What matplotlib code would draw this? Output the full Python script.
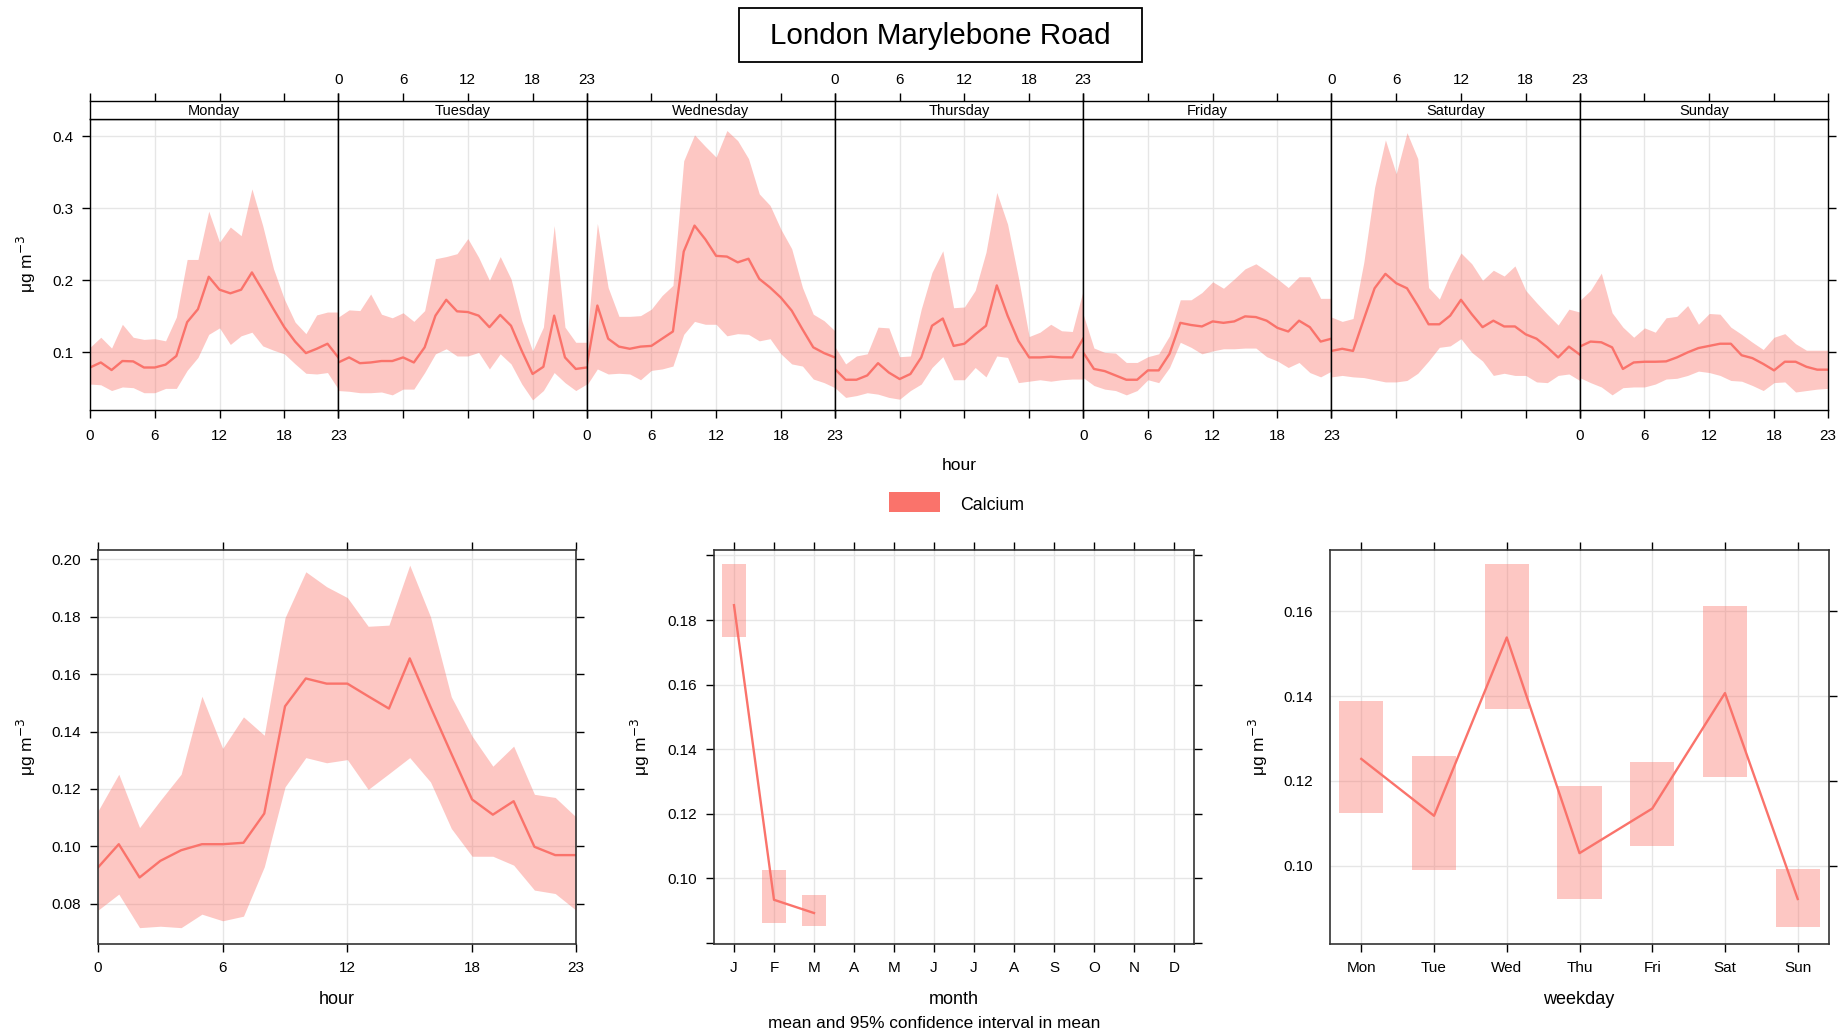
import numpy as np
import matplotlib.pyplot as plt
from matplotlib.patches import Rectangle

plt.rcParams["font.family"] = ["Liberation Sans", "DejaVu Sans"]

# ---- dane ----
hours = list(range(24))
day_names = ["Monday", "Tuesday", "Wednesday", "Thursday", "Friday", "Saturday", "Sunday"]

day_mean = [
    [0.079, 0.086, 0.0755, 0.088, 0.0875, 0.079, 0.079, 0.083, 0.095, 0.142, 0.160, 0.205,
     0.187, 0.182, 0.187, 0.211, 0.186, 0.160, 0.135, 0.115, 0.099, 0.105, 0.112, 0.093],
    [0.086, 0.093, 0.085, 0.086, 0.088, 0.088, 0.093, 0.086, 0.107, 0.151, 0.173, 0.157,
     0.156, 0.151, 0.135, 0.152, 0.137, 0.102, 0.070, 0.080, 0.151, 0.093, 0.077, 0.079],
    [0.080, 0.165, 0.119, 0.108, 0.105, 0.108, 0.109, 0.119, 0.129, 0.240, 0.276, 0.257,
     0.234, 0.233, 0.225, 0.230, 0.202, 0.190, 0.176, 0.158, 0.132, 0.107, 0.099, 0.093],
    [0.077, 0.062, 0.062, 0.068, 0.085, 0.072, 0.063, 0.070, 0.093, 0.137, 0.147, 0.109,
     0.112, 0.125, 0.137, 0.193, 0.151, 0.116, 0.093, 0.093, 0.094, 0.093, 0.093, 0.119],
    [0.100, 0.077, 0.074, 0.068, 0.062, 0.062, 0.075, 0.075, 0.098, 0.141, 0.138, 0.136,
     0.143, 0.141, 0.143, 0.150, 0.149, 0.144, 0.134, 0.129, 0.144, 0.135, 0.115, 0.119],
    [0.102, 0.105, 0.102, 0.146, 0.189, 0.209, 0.196, 0.189, 0.165, 0.139, 0.139, 0.151,
     0.173, 0.153, 0.135, 0.144, 0.136, 0.136, 0.125, 0.119, 0.107, 0.093, 0.108, 0.097],
    [0.108, 0.115, 0.114, 0.107, 0.077, 0.086, 0.087, 0.087, 0.0875, 0.093, 0.100, 0.106,
     0.109, 0.112, 0.112, 0.096, 0.092, 0.084, 0.075, 0.087, 0.087, 0.080, 0.076, 0.076],
]
day_lower = [
    [0.056, 0.055, 0.047, 0.052, 0.051, 0.044, 0.044, 0.050, 0.050, 0.075, 0.093, 0.125,
     0.134, 0.111, 0.123, 0.128, 0.109, 0.103, 0.098, 0.084, 0.071, 0.070, 0.072, 0.049],
    [0.047, 0.046, 0.044, 0.044, 0.045, 0.041, 0.049, 0.049, 0.072, 0.098, 0.105, 0.095,
     0.095, 0.100, 0.077, 0.098, 0.084, 0.056, 0.034, 0.047, 0.072, 0.058, 0.047, 0.056],
    [0.054, 0.077, 0.070, 0.071, 0.070, 0.062, 0.075, 0.077, 0.081, 0.125, 0.143, 0.139,
     0.139, 0.123, 0.126, 0.125, 0.116, 0.119, 0.098, 0.084, 0.081, 0.063, 0.058, 0.051],
    [0.051, 0.0375, 0.040, 0.044, 0.042, 0.0375, 0.035, 0.047, 0.056, 0.079, 0.094, 0.062,
     0.062, 0.079, 0.066, 0.095, 0.093, 0.058, 0.060, 0.062, 0.060, 0.062, 0.063, 0.063],
    [0.065, 0.054, 0.049, 0.047, 0.041, 0.047, 0.062, 0.058, 0.079, 0.114, 0.107, 0.098,
     0.102, 0.105, 0.105, 0.106, 0.106, 0.094, 0.088, 0.079, 0.086, 0.072, 0.066, 0.074],
    [0.066, 0.068, 0.066, 0.065, 0.062, 0.059, 0.059, 0.061, 0.071, 0.088, 0.107, 0.109,
     0.119, 0.100, 0.088, 0.068, 0.071, 0.068, 0.068, 0.059, 0.058, 0.068, 0.070, 0.061],
    [0.065, 0.058, 0.052, 0.041, 0.051, 0.052, 0.052, 0.056, 0.063, 0.064, 0.068, 0.074,
     0.072, 0.068, 0.061, 0.060, 0.054, 0.047, 0.058, 0.059, 0.045, 0.047, 0.049, 0.050],
]
day_upper = [
    [0.107, 0.121, 0.106, 0.139, 0.121, 0.118, 0.119, 0.116, 0.149, 0.229, 0.229, 0.296,
     0.253, 0.274, 0.262, 0.327, 0.276, 0.216, 0.174, 0.142, 0.126, 0.152, 0.156, 0.156],
    [0.149, 0.159, 0.158, 0.181, 0.153, 0.148, 0.155, 0.143, 0.158, 0.230, 0.233, 0.237,
     0.258, 0.232, 0.200, 0.233, 0.202, 0.144, 0.102, 0.135, 0.276, 0.135, 0.114, 0.114],
    [0.114, 0.279, 0.190, 0.150, 0.150, 0.151, 0.160, 0.179, 0.193, 0.366, 0.402, 0.386,
     0.371, 0.408, 0.394, 0.369, 0.320, 0.304, 0.271, 0.244, 0.190, 0.153, 0.144, 0.130],
    [0.108, 0.084, 0.095, 0.098, 0.135, 0.134, 0.094, 0.095, 0.160, 0.211, 0.241, 0.162,
     0.163, 0.186, 0.239, 0.322, 0.278, 0.204, 0.122, 0.128, 0.139, 0.130, 0.129, 0.186],
    [0.153, 0.106, 0.100, 0.099, 0.086, 0.086, 0.094, 0.098, 0.123, 0.173, 0.173, 0.183,
     0.198, 0.189, 0.202, 0.216, 0.223, 0.213, 0.202, 0.190, 0.205, 0.205, 0.175, 0.175],
    [0.149, 0.143, 0.147, 0.225, 0.329, 0.395, 0.348, 0.405, 0.369, 0.190, 0.174, 0.209,
     0.238, 0.223, 0.200, 0.214, 0.206, 0.220, 0.186, 0.169, 0.153, 0.138, 0.160, 0.156],
    [0.172, 0.186, 0.210, 0.155, 0.135, 0.121, 0.134, 0.128, 0.148, 0.150, 0.165, 0.139,
     0.154, 0.153, 0.135, 0.125, 0.114, 0.104, 0.121, 0.126, 0.112, 0.103, 0.103, 0.103],
]

hour_mean = [0.0926, 0.1007, 0.0891, 0.0949, 0.0986, 0.1007, 0.1007, 0.1012, 0.1114, 0.1488,
             0.1585, 0.1567, 0.1567, 0.1523, 0.1480, 0.1655, 0.1486, 0.1323, 0.1163, 0.1110,
             0.1157, 0.0998, 0.0969, 0.0969]
hour_lower = [0.0777, 0.0833, 0.0716, 0.0721, 0.0716, 0.0763, 0.0740, 0.0756, 0.0928, 0.1207,
              0.1309, 0.1291, 0.1302, 0.1198, 0.1253, 0.1309, 0.1224, 0.1062, 0.0965, 0.0965,
              0.0934, 0.0847, 0.0835, 0.0777]
hour_upper = [0.1123, 0.1251, 0.1065, 0.1160, 0.1251, 0.1523, 0.1341, 0.1451, 0.1387, 0.1797,
              0.1957, 0.1905, 0.1867, 0.1767, 0.1771, 0.1980, 0.1800, 0.1521, 0.1384, 0.1279,
              0.1349, 0.1181, 0.1170, 0.1102]

month_labels = ["J", "F", "M", "A", "M", "J", "J", "A", "S", "O", "N", "D"]
month_mean = [0.1846, 0.0933, 0.0892]
month_lower = [0.1746, 0.0861, 0.0852]
month_upper = [0.1973, 0.1026, 0.0949]

weekday_labels = ["Mon", "Tue", "Wed", "Thu", "Fri", "Sat", "Sun"]
weekday_mean = [0.1252, 0.1118, 0.1538, 0.1030, 0.1135, 0.1407, 0.0922]
weekday_lower = [0.1125, 0.0991, 0.1370, 0.0922, 0.1047, 0.1209, 0.0855]
weekday_upper = [0.1389, 0.1258, 0.1711, 0.1187, 0.1244, 0.1612, 0.0992]

# ---- styl ----
W, H = 1843, 1035
KOLOR = "#FA736B"
SIATKA = "#E6E6E6"
UNIT = "μg m$^{-3}$"


def box(l, t, r, b):
    return [l / W, 1 - b / H, (r - l) / W, (b - t) / H]


fig = plt.figure(figsize=(W / 100, H / 100), dpi=100)

# tytuł w ramce
fig.patches.append(Rectangle((739 / W, 1 - 62 / H), (1142 - 739) / W, 54 / H,
                             transform=fig.transFigure, fill=False, ec="black", lw=1.3))
fig.text(940.5 / W, 1 - 36 / H, "London Marylebone Road", ha="center", va="center", fontsize=21.3)

# ---- górny panel: dni tygodnia ----
L, R = 90, 1828
dw = (R - L) / 7
for i, name in enumerate(day_names):
    l = L + i * dw
    ax = fig.add_axes(box(l, 119, l + dw, 410))
    ax.set_axisbelow(True)
    ax.fill_between(hours, day_lower[i], day_upper[i], color=KOLOR, alpha=0.4, lw=0)
    ax.plot(hours, day_mean[i], color=KOLOR, lw=1.7)
    ax.set_xlim(0, 23)
    ax.set_ylim(0.02, 0.424)
    ax.set_xticks([0, 6, 12, 18, 23])
    ax.set_yticks([0.1, 0.2, 0.3, 0.4])
    ax.set_yticklabels(["0.1", "0.2", "0.3", "0.4"])
    ax.grid(color=SIATKA, lw=1)
    ax.tick_params(direction="out", length=6, width=1, labelsize=11, pad=8,
                   bottom=True, top=False, left=(i == 0), right=(i == 6),
                   labelbottom=(i % 2 == 0), labelleft=(i == 0), labelright=False)
    ax.tick_params(axis="y", pad=6)
    for s in ax.spines.values():
        s.set_color("black")
        s.set_linewidth(1)

    st = fig.add_axes(box(l, 101, l + dw, 119))
    st.set_xlim(0, 23)
    st.set_xticks([0, 6, 12, 18, 23])
    st.set_yticks([])
    st.tick_params(direction="out", length=6, width=1, labelsize=11, pad=4,
                   top=True, bottom=False, labeltop=(i % 2 == 1), labelbottom=False)
    st.text(0.5, 0.45, name, transform=st.transAxes, ha="center", va="center", fontsize=10.5)
    for s in st.spines.values():
        s.set_color("black")
        s.set_linewidth(1)

fig.text(26 / W, 1 - 264 / H, UNIT, rotation=90, ha="center", va="center", fontsize=12.5)
fig.text((L + R) / 2 / W, 1 - 465 / H, "hour", ha="center", va="center", fontsize=12.5)

# legenda
fig.patches.append(Rectangle((889 / W, 1 - 512 / H), 51 / W, 20 / H,
                             transform=fig.transFigure, color=KOLOR, lw=0))
fig.text(960 / W, 1 - 505 / H, "Calcium", ha="left", va="center", fontsize=12.8)


def styl(ax, left_ticks=True):
    ax.set_axisbelow(True)
    ax.grid(color=SIATKA, lw=1)
    ax.tick_params(direction="out", length=6, width=1, labelsize=11, pad=6,
                   top=True, right=True, left=left_ticks, labelleft=True)
    for s in ax.spines.values():
        s.set_color("#333333")
        s.set_linewidth(1.2)


# ---- wykres godzinowy ----
ax1 = fig.add_axes(box(98, 550, 576, 944))
ax1.fill_between(hours, hour_lower, hour_upper, color=KOLOR, alpha=0.4, lw=0)
ax1.plot(hours, hour_mean, color=KOLOR, lw=1.7)
ax1.set_xlim(0, 23)
ax1.set_ylim(0.0659, 0.2033)
ax1.set_xticks([0, 6, 12, 18, 23])
ax1.set_yticks([0.08, 0.10, 0.12, 0.14, 0.16, 0.18, 0.20])
ax1.set_yticklabels(["0.08", "0.10", "0.12", "0.14", "0.16", "0.18", "0.20"])
styl(ax1)
fig.text(26 / W, 1 - 747 / H, UNIT, rotation=90, ha="center", va="center", fontsize=12.5)
fig.text(337 / W, 1 - 999 / H, "hour", ha="center", va="center", fontsize=13)

# ---- wykres miesięczny ----
ax2 = fig.add_axes(box(714, 550, 1194, 944))
mx = np.arange(1, len(month_mean) + 1)
ax2.bar(mx, np.array(month_upper) - np.array(month_lower), bottom=month_lower,
        width=0.62, color=KOLOR, alpha=0.4, lw=0)
ax2.plot(mx, month_mean, color=KOLOR, lw=1.7)
ax2.set_xlim(0.5, 12.5)
ax2.set_ylim(0.0796, 0.2017)
ax2.set_xticks(range(1, 13))
ax2.set_xticklabels(month_labels)
ax2.set_yticks([0.08, 0.10, 0.12, 0.14, 0.16, 0.18, 0.20])
ax2.set_yticklabels(["", "0.10", "0.12", "0.14", "0.16", "0.18", ""])
styl(ax2)
fig.text(640 / W, 1 - 747 / H, UNIT, rotation=90, ha="center", va="center", fontsize=12.5)
fig.text(954 / W, 1 - 999 / H, "month", ha="center", va="center", fontsize=13)
fig.text(934 / W, 1 - 1024 / H, "mean and 95% confidence interval in mean",
         ha="center", va="center", fontsize=12.4)

# ---- wykres dni tygodnia ----
ax3 = fig.add_axes(box(1330, 550, 1829, 944))
wx = np.arange(1, 8)
ax3.bar(wx, np.array(weekday_upper) - np.array(weekday_lower), bottom=weekday_lower,
        width=0.61, color=KOLOR, alpha=0.4, lw=0)
ax3.plot(wx, weekday_mean, color=KOLOR, lw=1.7)
ax3.set_xlim(0.57, 7.43)
ax3.set_ylim(0.0816, 0.1744)
ax3.set_xticks(wx)
ax3.set_xticklabels(weekday_labels)
ax3.set_yticks([0.10, 0.12, 0.14, 0.16])
ax3.set_yticklabels(["0.10", "0.12", "0.14", "0.16"])
styl(ax3, left_ticks=False)
fig.text(1258 / W, 1 - 747 / H, UNIT, rotation=90, ha="center", va="center", fontsize=12.5)
fig.text(1579 / W, 1 - 999 / H, "weekday", ha="center", va="center", fontsize=13)

fig.savefig("out.png", dpi=100)
